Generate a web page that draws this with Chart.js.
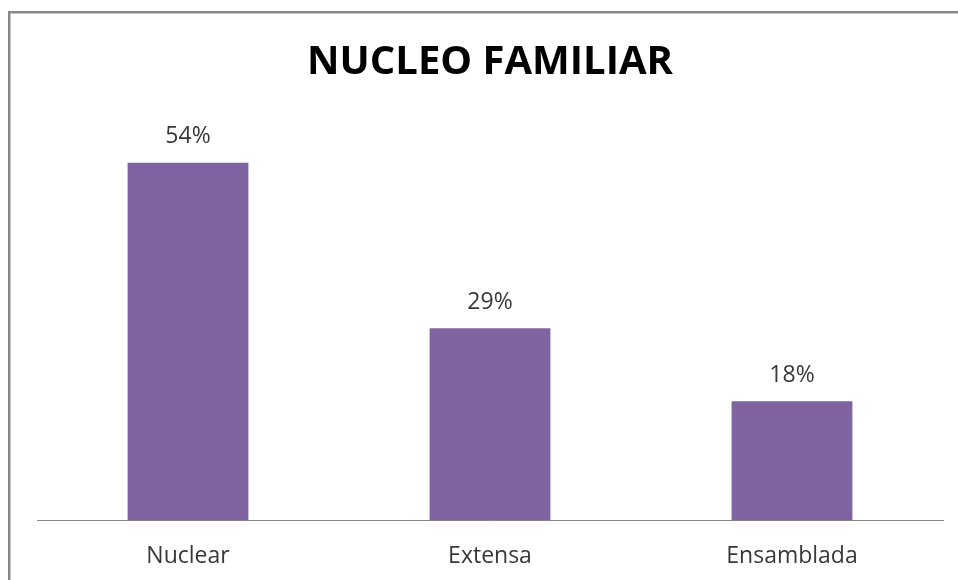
<!DOCTYPE html>
<html lang="es">
<head>
<meta charset="utf-8">
<title>Núcleo familiar</title>
<script src="https://cdn.jsdelivr.net/npm/chart.js@4.4.0/dist/chart.umd.min.js"></script>
<style>
  html, body { margin: 0; padding: 0; background: #ffffff; overflow: hidden; }
  #wrap { position: relative; width: 958px; height: 580px; }
  /* outer frame: only the top and left edges fall inside the window */
  #frame {
    position: absolute; left: 8px; top: 11px; width: 1200px; height: 1200px;
    border-left: 2px solid #868686; border-top: 2px solid #868686;
    box-sizing: border-box;
  }
  #frame::after {
    content: ""; position: absolute; left: 0; top: 0; right: 0; bottom: 0;
    border-left: 1px solid #c8c8c8; border-top: 1px solid #c8c8c8;
  }
  canvas { position: absolute; left: 0; top: 0; }
</style>
</head>
<body>
<div id="wrap">
  <div id="frame"></div>
  <canvas id="chart" width="958" height="580"></canvas>
</div>
<script>
const categories = ['Nuclear', 'Extensa', 'Ensamblada'];
const percentages = [54, 29, 18];
const chartTitle = 'NUCLEO FAMILIAR';

const BAR_COLOR = '#8064A2';
const TEXT_COLOR = '#383838';

// writes each bar's value just above it
const valueLabels = {
  id: 'valueLabels',
  afterDatasetsDraw(chart) {
    const ctx = chart.ctx;
    ctx.save();
    ctx.font = '23px "Open Sans"';
    ctx.fillStyle = TEXT_COLOR;
    ctx.textAlign = 'center';
    ctx.textBaseline = 'middle';
    chart.getDatasetMeta(0).data.forEach((bar, i) => {
      ctx.fillText(percentages[i] + '%', bar.x, bar.y - 26);
    });
    ctx.restore();
  }
};

new Chart(document.getElementById('chart'), {
  type: 'bar',
  data: {
    labels: categories,
    datasets: [{
      data: percentages,
      backgroundColor: BAR_COLOR,
      borderWidth: 0,
      categoryPercentage: 1,
      barPercentage: 0.4
    }]
  },
  options: {
    responsive: false,
    animation: false,
    layout: { padding: { left: 37, right: 15, top: 0, bottom: -13 } },
    plugins: {
      legend: { display: false },
      tooltip: { enabled: false },
      title: {
        display: true,
        text: chartTitle,
        color: '#000000',
        font: { family: '"Open Sans"', size: 40, weight: 'bold', lineHeight: 1.2 },
        padding: { top: 39, bottom: 36 }
      }
    },
    scales: {
      x: {
        grid: { display: false, drawTicks: false },
        border: { display: true, color: '#888888', width: 1 },
        ticks: {
          color: TEXT_COLOR,
          padding: 22.5,
          font: { family: '"Open Sans"', size: 23 }
        }
      },
      y: {
        display: false,
        min: 0,
        max: 60
      }
    }
  },
  plugins: [valueLabels]
});
</script>
</body>
</html>
